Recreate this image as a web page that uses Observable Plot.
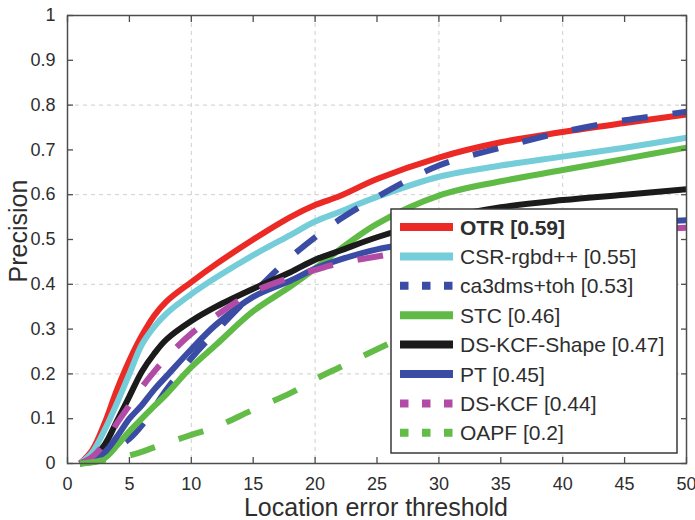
<!DOCTYPE html>
<html><head><meta charset="utf-8">
<script src="https://cdn.jsdelivr.net/npm/d3@7"></script>
<script src="https://cdn.jsdelivr.net/npm/@observablehq/plot@0.6"></script>
<style>body{margin:0;background:#fff} svg{display:block}</style>
</head><body><div id="chart"></div>
<script>
// Location error thresholds (x)
const thresholds = [1, 2, 3, 4, 5, 6, 7, 8, 10, 12, 15, 18, 20, 22, 25, 30, 35, 40, 45, 50];
// Precision values per tracker
const otr     = [0, 0.030, 0.090, 0.165, 0.230, 0.285, 0.330, 0.362, 0.405, 0.445, 0.500, 0.550, 0.577, 0.597, 0.635, 0.683, 0.717, 0.740, 0.760, 0.779];
const csr     = [0, 0.025, 0.075, 0.135, 0.200, 0.265, 0.305, 0.335, 0.378, 0.415, 0.465, 0.510, 0.540, 0.562, 0.595, 0.640, 0.665, 0.685, 0.705, 0.727];
const ca3dms  = [0, 0.008, 0.020, 0.035, 0.055, 0.085, 0.125, 0.165, 0.235, 0.295, 0.380, 0.460, 0.505, 0.545, 0.595, 0.665, 0.705, 0.740, 0.766, 0.785];
const stc     = [0, 0.003, 0.012, 0.040, 0.072, 0.100, 0.128, 0.155, 0.215, 0.265, 0.340, 0.395, 0.435, 0.478, 0.535, 0.598, 0.630, 0.655, 0.680, 0.705];
const dsShape = [0, 0.012, 0.042, 0.095, 0.150, 0.205, 0.245, 0.277, 0.318, 0.350, 0.390, 0.427, 0.455, 0.475, 0.505, 0.545, 0.572, 0.588, 0.600, 0.612];
const pt      = [0, 0.008, 0.025, 0.060, 0.100, 0.130, 0.165, 0.195, 0.255, 0.310, 0.372, 0.408, 0.435, 0.455, 0.478, 0.500, 0.515, 0.527, 0.536, 0.543];
const dsKcf   = [0, 0.015, 0.045, 0.090, 0.130, 0.170, 0.205, 0.237, 0.290, 0.330, 0.383, 0.415, 0.432, 0.447, 0.462, 0.485, 0.500, 0.512, 0.520, 0.526];
const oapf    = [0, 0.003, 0.008, 0.013, 0.018, 0.026, 0.036, 0.045, 0.064, 0.082, 0.120, 0.157, 0.188, 0.215, 0.255, 0.320, 0.380, 0.430, 0.473, 0.508];

const seriesNames  = ["OTR [0.59]", "CSR-rgbd++ [0.55]", "ca3dms+toh [0.53]", "STC [0.46]", "DS-KCF-Shape [0.47]", "PT [0.45]", "DS-KCF [0.44]", "OAPF [0.2]"];
const seriesValues = [otr, csr, ca3dms, stc, dsShape, pt, dsKcf, oapf];
const seriesColors = ["#ec2a25", "#74cdd8", "#3a4ca3", "#5fba46", "#1b1b1b", "#3a4ca3", "#b24ba5", "#63bc47"];
const seriesDashed = [false, false, true, false, false, false, true, true];
const seriesBold   = [true, false, false, false, false, false, false, false];

const xTicks = [0, 5, 10, 15, 20, 25, 30, 35, 40, 45, 50];
const xTickLabels = ["0", "5", "10", "15", "20", "25", "30", "35", "40", "45", "50"];
const yTicks = [0, 0.1, 0.2, 0.3, 0.4, 0.5, 0.6, 0.7, 0.8, 0.9, 1];
const yTickLabels = ["0", "0.1", "0.2", "0.3", "0.4", "0.5", "0.6", "0.7", "0.8", "0.9", "1"];
const xGrid = [10, 20, 30, 40];
const yGrid = [0.2, 0.4, 0.6, 0.8];
const xLabel = "Location error threshold";
const yLabel = "Precision";

const FONT = "'Liberation Sans', Arial, Helvetica, sans-serif";
const axisColor = "#4d4d4d";
const textColor = "#2e2e2e";

const lineMarks = seriesValues.map((vals, i) => Plot.line(thresholds, {
  x: thresholds, y: vals,
  stroke: seriesColors[i], strokeWidth: 6,
  strokeDasharray: seriesDashed[i] ? "26,25" : null,
  strokeLinecap: "butt", strokeLinejoin: "round",
  curve: "catmull-rom"
}));

const chart = Plot.plot({
  width: 695, height: 520,
  marginLeft: 67, marginRight: 9, marginTop: 15, marginBottom: 57,
  x: {domain: [0, 50]},
  y: {domain: [0, 1]},
  style: {fontFamily: FONT, background: "#fff", overflow: "visible"},
  marks: [
    Plot.gridX(xGrid, {stroke: "#cfcfcf", strokeOpacity: 1, strokeWidth: 1, strokeDasharray: "4,4"}),
    Plot.gridY(yGrid, {stroke: "#cfcfcf", strokeOpacity: 1, strokeWidth: 1, strokeDasharray: "4,4"}),
    ...lineMarks,
    Plot.frame({stroke: axisColor, strokeWidth: 1.5}),
    Plot.axisX({ticks: xTicks, anchor: "bottom", tickSize: 0, tickPadding: 14, fontSize: 18, fill: textColor, label: null, tickFormat: d => xTickLabels[xTicks.indexOf(d)]}),
    Plot.axisY({ticks: yTicks, anchor: "left", tickSize: 0, tickPadding: 12, fontSize: 18, fill: textColor, label: null, tickFormat: d => yTickLabels[yTicks.indexOf(d)]}),
    Plot.axisX({ticks: xTicks, anchor: "bottom", tickSize: -6, stroke: axisColor, strokeWidth: 1.3, label: null, tickFormat: () => ""}),
    Plot.axisX({ticks: xTicks, anchor: "top", tickSize: -6, stroke: axisColor, strokeWidth: 1.3, label: null, tickFormat: () => ""}),
    Plot.axisY({ticks: yTicks, anchor: "left", tickSize: -6, stroke: axisColor, strokeWidth: 1.3, label: null, tickFormat: () => ""}),
    Plot.axisY({ticks: yTicks, anchor: "right", tickSize: -6, stroke: axisColor, strokeWidth: 1.3, label: null, tickFormat: () => ""})
  ]
});
document.getElementById("chart").appendChild(chart);

const svg = d3.select(chart);
// axis titles
svg.append("text").attr("x", 376).attr("y", 516).attr("text-anchor", "middle")
  .attr("font-family", FONT).attr("font-size", 25).attr("fill", textColor).text(xLabel);
svg.append("text").attr("transform", "translate(27,231) rotate(-90)").attr("text-anchor", "middle")
  .attr("font-family", FONT).attr("font-size", 25).attr("fill", textColor).text(yLabel);

// legend
const lg = svg.append("g").attr("text-anchor", "start");
const lx0 = 391, ly0 = 209, lw = 286, lh = 244, rowH = 29.4, row0 = 227;
lg.append("rect").attr("x", lx0).attr("y", ly0).attr("width", lw).attr("height", lh)
  .attr("fill", "#fff").attr("stroke", "#3a3a3a").attr("stroke-width", 1.5);
seriesNames.forEach((name, i) => {
  const cy = row0 + i * rowH;
  lg.append("line").attr("x1", 400).attr("x2", 453).attr("y1", cy).attr("y2", cy)
    .attr("stroke", seriesColors[i]).attr("stroke-width", 8)
    .attr("stroke-dasharray", seriesDashed[i] ? "8.5,13.5" : null);
  lg.append("text").attr("x", 460).attr("y", cy).attr("dy", "0.36em")
    .attr("text-anchor", "start")
    .attr("font-family", FONT).attr("font-size", 21).attr("fill", textColor)
    .attr("font-weight", seriesBold[i] ? "bold" : null).text(name);
});
</script>
</body></html>
